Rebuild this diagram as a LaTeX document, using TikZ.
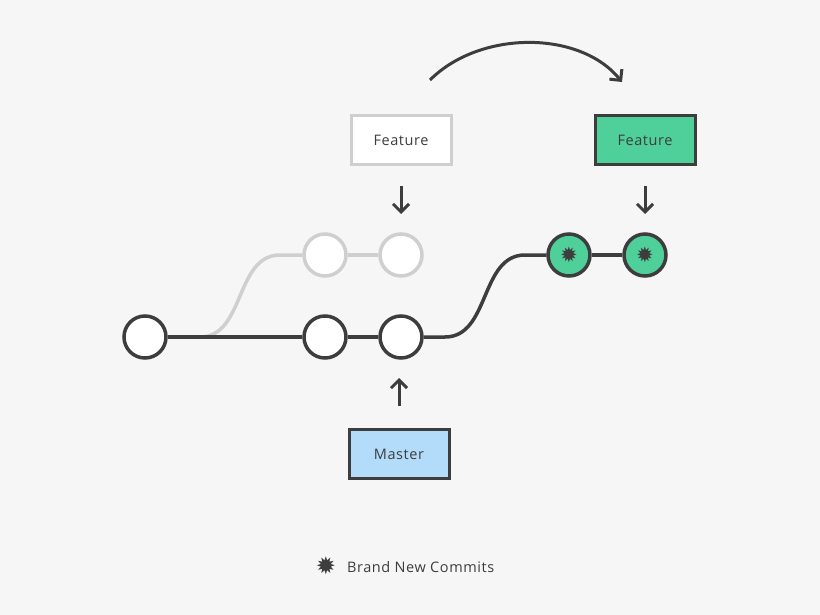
\documentclass[tikz,border=0pt]{standalone}
\usepackage{fontspec}
\setmainfont{Open Sans}[LetterSpace=4]
\newfontfamily\sym{DejaVu Sans}
\usetikzlibrary{arrows.meta}
\definecolor{bg}{HTML}{F6F6F6}
\definecolor{dk}{HTML}{3D3D3D}
\definecolor{lg}{HTML}{CFCFCF}
\definecolor{gr}{HTML}{4FCF9A}
\definecolor{bl}{HTML}{B3DCFB}
\begin{document}
\begin{tikzpicture}[x=1pt,y=-1pt,
 line width=3.5pt,
 commit/.style={circle,draw=dk,fill=white,minimum size=42pt,inner sep=0pt,line width=3.5pt},
 faded/.style={commit,draw=lg},
 newc/.style={commit,fill=gr,font=\sym\fontsize{21}{21}\selectfont,text=dk},
 box/.style={draw=dk,line width=3pt,minimum width=100pt,minimum height=49pt,font=\fontsize{14.5}{14.5}\selectfont,text=dk},
 arr/.style={draw=dk,line width=3pt,-{Straight Barb[length=8pt,width=16pt,line width=3pt]}}]
\fill[bg] (0,0) rectangle (820,615);
\node[faded] (f1) at (325,255) {};
\node[faded] (f2) at (401,255) {};
\draw[lg] (168,337) -- (200,337) .. controls (245,337) and (235,255) .. (280,255) -- (f1);
\draw[lg] (f1) -- (f2);
\node[commit] (c0) at (145,337) {};
\node[commit] (c1) at (325,337) {};
\node[commit] (c2) at (401,337) {};
\node[newc] (n1) at (569,255) {✹};
\node[newc] (n2) at (645,255) {✹};
\draw[dk] (c0) -- (c1) (c1) -- (c2) (n1) -- (n2);
\draw[dk] (c2.east) -- (445,337) .. controls (490,337) and (480,255) .. (525,255) -- (n1.west);
\node[box,draw=lg,fill=white] (ff) at (401,140) {Feature};
\node[box,fill=gr] (fn) at (645,140) {Feature};
\node[box,fill=bl] (m) at (399,454) {Master};
\coordinate (a1) at (401,186); \coordinate (a2) at (645,186);
\coordinate (a3) at (399,406);
\draw[arr] (a1) -- ++(0,28);
\draw[arr] (a2) -- ++(0,28);
\draw[arr] (a3) -- ++(0,-28);
\coordinate (s) at (430,80); \coordinate (e) at (622,82);
\draw[arr] (s) .. controls (480,30) and (580,30) .. (e);
\node[text=dk,font=\sym\fontsize{24}{24}\selectfont] (lg) at (326,566) {✹};
\node[anchor=west,text=dk,font=\fontsize{14.5}{14.5}\selectfont] (lt) at (342,567) {Brand New Commits};
\end{tikzpicture}
\end{document}
